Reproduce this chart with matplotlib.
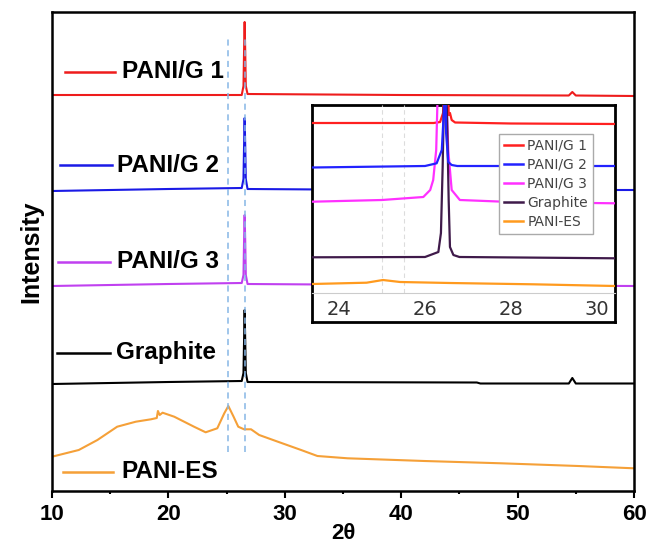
import matplotlib.pyplot as plt
from matplotlib.lines import Line2D

# ---- main panel data: 2theta (deg) vs intensity (a.u., stacked) ----
g1_x = [10, 20, 26.3, 26.45, 26.5, 26.55, 26.6, 26.65, 26.8, 40, 54.4, 54.7, 55.0, 60]
g1_y = [396, 396, 396, 405, 440, 469, 440, 405, 397, 396, 395.5, 399, 395.5, 395]

g2_x = [10, 20, 26.3, 26.45, 26.5, 26.55, 26.6, 26.65, 26.8, 40, 60]
g2_y = [300, 302, 303, 312, 345, 373, 345, 312, 302, 301, 301]

g3_x = [10, 20, 26.3, 26.45, 26.5, 26.55, 26.6, 26.65, 26.8, 40, 60]
g3_y = [205, 207, 208, 216, 250, 276, 250, 216, 207, 206, 205]

gr_x = [10, 20, 26.3, 26.45, 26.5, 26.55, 26.6, 26.65, 26.8, 46.5, 46.8, 54.4, 54.7, 55.0, 60]
gr_y = [107, 109, 110, 118, 150, 181, 150, 118, 109, 108.5, 107.5, 107.5, 113, 107.5, 107.5]

es_x = [10, 12.3, 13.9, 15.6, 17.2, 18.5, 19.0, 19.1, 19.25, 19.5, 20.5, 22.2, 23.2, 24.2, 24.8,
        25.15, 25.6, 26.0, 26.5, 27.1, 27.8, 29.4, 31.4, 32.8, 35.4, 42, 48.6, 55.2, 60]
es_y = [34.3, 41, 51, 64.3, 69.3, 71.7, 73, 80, 76, 78.3, 74.3, 64.3, 58.7, 62.7, 77.7,
        85, 74.3, 64.3, 61.7, 61.7, 56, 49.3, 41, 35, 32.7, 30, 27.7, 25, 22.7]

ref_lines = [25.1, 26.55]

# ---- inset data (zoom 23.4-30.4 deg, own scale) ----
i1_x = [23.37, 26.2, 26.35, 26.42, 26.46, 26.52, 26.55, 26.58, 26.62, 26.7, 28, 30.42]
i1_y = [170, 170, 171, 180, 260, 260, 178, 180, 173, 170.5, 169.5, 169]

i2_x = [23.37, 26.0, 26.27, 26.39, 26.44, 26.46, 26.49, 26.54, 26.62, 26.75, 30.42]
i2_y = [125.5, 127, 129.7, 143, 183, 260, 160, 131, 128, 127, 127]

i3_x = [23.37, 25.0, 25.96, 26.12, 26.19, 26.26, 26.29, 26.4, 26.5, 26.54, 26.62, 26.81, 28, 30.42]
i3_y = [91.3, 93, 96, 103, 113, 143, 193, 260, 193, 143, 103, 93, 91, 89.7]

ig_x = [23.37, 26.0, 26.31, 26.37, 26.41, 26.47, 26.52, 26.55, 26.58, 26.66, 26.8, 30.42]
ig_y = [35.7, 36, 41, 60, 126, 260, 160, 93, 46, 38, 36, 34.7]

ie_x = [23.37, 24.64, 25.02, 25.42, 26.58, 28.51, 30.42]
ie_y = [9, 10.3, 13, 11, 10, 8.7, 7]

labels = ['PANI/G 1', 'PANI/G 2', 'PANI/G 3', 'Graphite', 'PANI-ES']
main_colors = ['#ee1c1c', '#1a1ae6', '#c040f0', '#000000', '#f5a038']
inset_colors = ['#ff2020', '#2222ff', '#ff30ff', '#3f1a4a', '#ff9a1e']

fig = plt.figure(figsize=(6.52, 5.44), dpi=100)
ax = fig.add_axes([52/652, 53/544, 582/652, 479/544])

for xs, ys, c in zip([g1_x, g2_x, g3_x, gr_x, es_x], [g1_y, g2_y, g3_y, gr_y, es_y], main_colors):
    ax.plot(xs, ys, color=c, lw=1.5)

for xv in ref_lines:
    ax.plot([xv, xv], [39, 456], color='#86b6e6', lw=1.1, ls=(0, (4, 3)))

ax.set_xlim(10, 60)
ax.set_ylim(0, 479)
ax.set_xticks([10, 20, 30, 40, 50, 60])
ax.set_xticks([15, 25, 35, 45, 55], minor=True)
ax.set_yticks([])
for lab in ax.get_xticklabels():
    lab.set_fontfamily('Liberation Sans')
    lab.set_fontweight('bold')
ax.tick_params(axis='x', which='major', length=5, width=1.5, labelsize=16, pad=4)
ax.tick_params(axis='x', which='minor', length=2.5, width=1.5)
for s in ax.spines.values():
    s.set_linewidth(1.8)
ax.set_xlabel('2θ', fontsize=16, fontweight='bold', fontfamily='Liberation Sans', labelpad=-1)
ax.set_ylabel('Intensity', fontsize=18, fontweight='bold', fontfamily='Liberation Sans', labelpad=6)

# in-plot labels with line handles (pixel layout -> axes fraction)
label_pos = [(65, 115, 122, 72), (60, 112, 117, 165), (58, 110, 117, 262),
             (57, 110, 116, 353), (63, 113, 121, 472)]
for (h0, h1, tx, py), lab, c in zip(label_pos, labels, main_colors):
    yf = (491 - py) / 479
    ax.add_line(Line2D([(h0 - 52) / 582, (h1 - 52) / 582], [yf, yf], color=c, lw=1.8,
                       transform=ax.transAxes))
    ax.text((tx - 52) / 582, yf, lab, transform=ax.transAxes, va='center', ha='left',
            fontsize=17.5, fontweight='bold', fontfamily='Liberation Sans')

# inset frame (includes tick label strip)
frame = fig.add_axes([312/652, (544-322)/544, 303/652, 217/544])
frame.set_xticks([])
frame.set_yticks([])
frame.set_facecolor('white')
for s in frame.spines.values():
    s.set_linewidth(2)

ins = fig.add_axes([312/652, (544-293)/544, 303/652, 188/544])
ins.patch.set_alpha(0)
for xs, ys, c in zip([ie_x, i1_x, i3_x, ig_x, i2_x], [ie_y, i1_y, i3_y, ig_y, i2_y],
                     [inset_colors[4], inset_colors[0], inset_colors[2], inset_colors[3], inset_colors[1]]):
    ins.plot(xs, ys, color=c, lw=1.6)
for xv in [25.0, 25.5]:
    ins.axvline(xv, color='#dcdcdc', lw=0.8, ls=(0, (4, 3)), zorder=0)
ins.set_xlim(23.37, 30.42)
ins.set_ylim(0, 188)
ins.set_yticks([])
ins.set_xticks([24, 26, 28, 30])
ins.tick_params(axis='x', length=0, labelsize=14, labelcolor='#333333', pad=5)
for k in ['top', 'left', 'right']:
    ins.spines[k].set_visible(False)
ins.spines['bottom'].set_color('#cccccc')
ins.spines['bottom'].set_linewidth(0.8)

handles = [Line2D([], [], color=c, lw=1.8) for c in inset_colors]
leg = fig.legend(handles, labels, loc='upper left', bbox_to_anchor=(499/652, 1 - 134/544),
                 bbox_transform=fig.transFigure, fontsize=10, handlelength=1.4,
                 handletextpad=0.3, labelspacing=0.36, borderpad=0.35, borderaxespad=0,
                 fancybox=False, framealpha=1, edgecolor='#aaaaaa')
for t in leg.get_texts():
    t.set_color('#444444')
leg.set_zorder(10)

fig.savefig('out.png', dpi=100)
